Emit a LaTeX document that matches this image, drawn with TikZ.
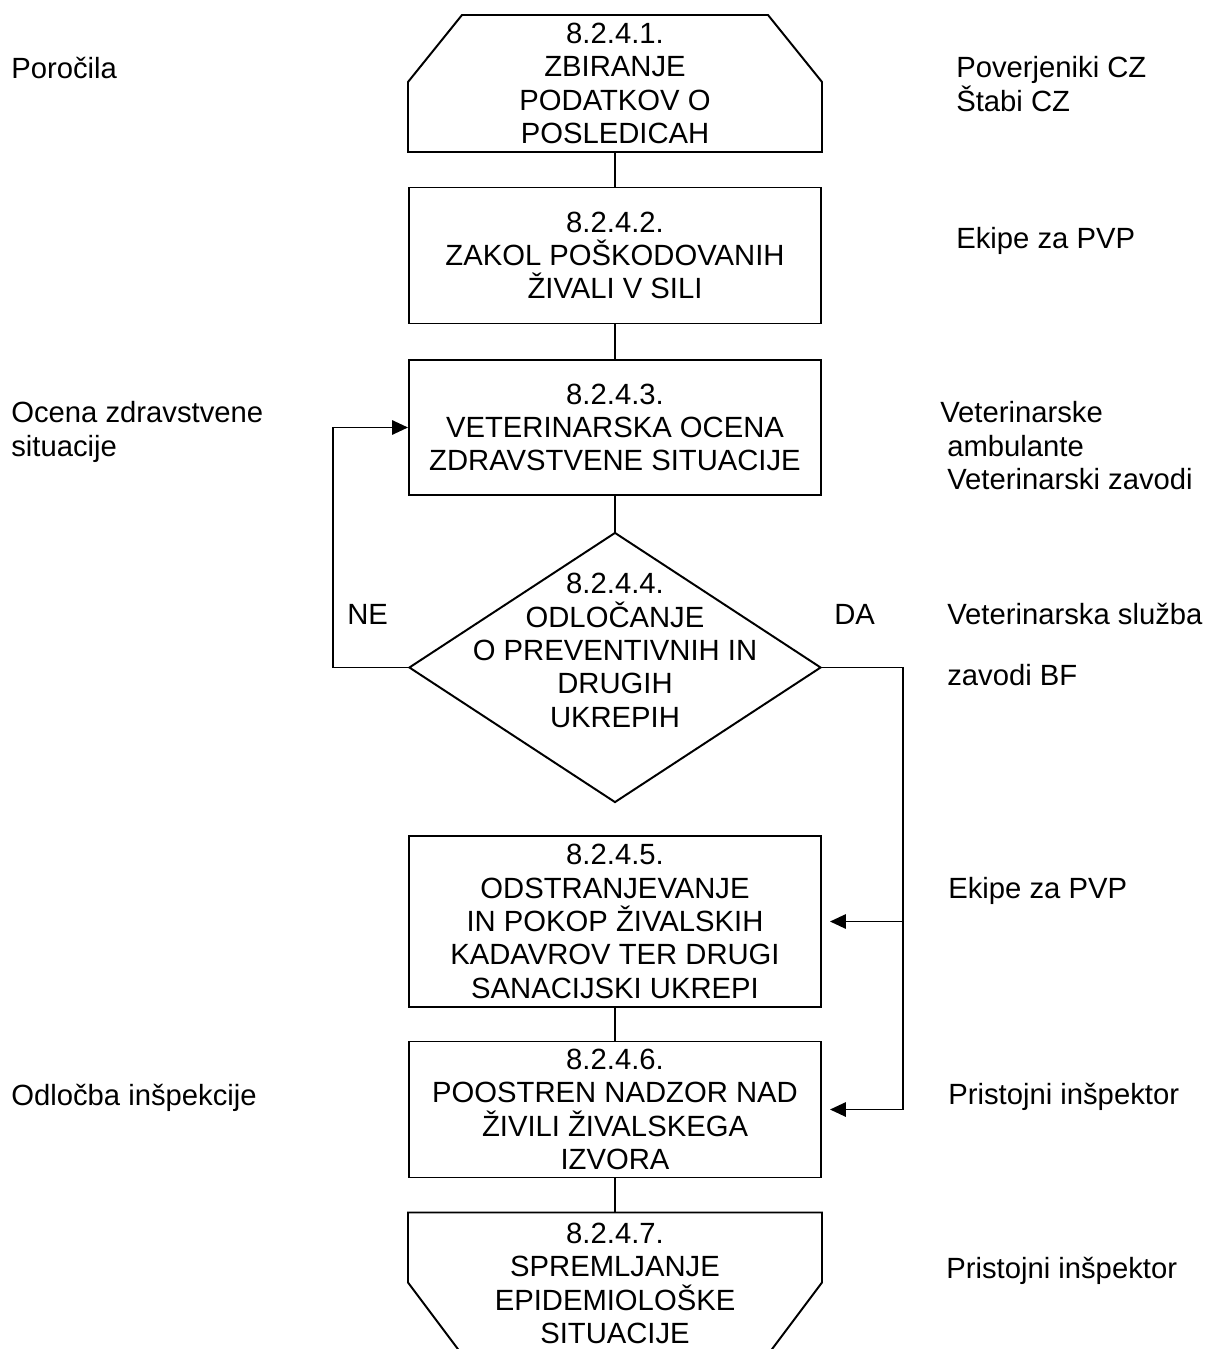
\documentclass[tikz,border=0pt]{standalone}
\usepackage{fontspec}
\setmainfont{Liberation Sans}
\usetikzlibrary{shapes.geometric, arrows.meta}

\tikzstyle{startbox} = [rectangle, minimum width=10.35cm, minimum height=3.425cm, align=center, outer sep=0pt]
\tikzstyle{endbox} = [rectangle, minimum width=10.35cm, minimum height=3.55cm, align=center, outer sep=0pt]
\tikzstyle{process} = [rectangle, minimum width=10.3cm, minimum height=3.4cm, align=center, draw=black, line width=1.4pt]
\tikzstyle{decision} = [diamond, minimum width=10.3cm, minimum height=6.75cm, inner sep=0pt, draw=black, line width=1.4pt]
\tikzstyle{side} = [anchor=north west, inner sep=0pt, align=left]
\tikzstyle{line} = [line width=1.4pt]
\tikzstyle{arrow} = [line width=1.4pt,->,>={Triangle[length=0.4cm,width=0.36cm]}]

\begin{document}
\begin{tikzpicture}[node distance=4.3cm, font=\fontsize{20.8}{23.7}\selectfont]
\useasboundingbox (-15.375,2.0875) rectangle (14.875,-31.6375);

% main column
\node (start) [startbox] {8.2.4.1.\\ZBIRANJE\\PODATKOV O\\POSLEDICAH};
\node (pro2) [process, below of=start] {8.2.4.2.\\ZAKOL POŠKODOVANIH\\ŽIVALI V SILI};
\node (pro3) [process, below of=pro2, minimum height=3.375cm] {8.2.4.3.\\VETERINARSKA OCENA\\ZDRAVSTVENE SITUACIJE};
\node (dec) [decision, below of=pro3, yshift=-1.7cm, label={[align=center, yshift=0.425cm]center:{8.2.4.4.\\ODLOČANJE\\O PREVENTIVNIH IN\\DRUGIH\\UKREPIH}}] {};
\node (pro5) [process, below of=dec, yshift=-2.05cm, minimum height=4.275cm] {8.2.4.5.\\ODSTRANJEVANJE\\IN POKOP ŽIVALSKIH\\KADAVROV TER DRUGI\\SANACIJSKI UKREPI};
\node (pro6) [process, below of=pro5, yshift=-0.4cm] {8.2.4.6.\\POOSTREN NADZOR NAD\\ŽIVILI ŽIVALSKEGA\\IZVORA};
\node (stop) [endbox, below of=pro6, yshift=-0.05cm] {8.2.4.7.\\SPREMLJANJE\\EPIDEMIOLOŠKE\\SITUACIJE};

% cut corners of first and last block
\draw [line] (start.south west) -- ([yshift=-1.675cm]start.north west) -- ([xshift=1.35cm]start.north west) -- ([xshift=-1.35cm]start.north east) -- ([yshift=-1.675cm]start.north east) -- (start.south east) -- cycle;
\draw [line] (stop.north west) -- ([yshift=1.8cm]stop.south west) -- ([xshift=1.35cm]stop.south west) -- ([xshift=-1.35cm]stop.south east) -- ([yshift=1.8cm]stop.south east) -- (stop.north east) -- cycle;

% side texts
\node (porocila) [side] at (-15.1,0.675) {Poročila};
\node (poverjeniki) [side] at (8.525,0.675) {Poverjeniki CZ\\Štabi CZ};
\node (ekipe1) [side] at (8.525,-3.6) {Ekipe za PVP};
\node (ocena) [side] at (-15.1,-7.95) {Ocena zdravstvene\\situacije};
\node (ambulante) [side] at (8.125,-7.95) {Veterinarske\\\kern0.175cm ambulante\\\kern0.175cm Veterinarski zavodi};
\node (ne) [side] at (-6.7,-13.025) {NE};
\node (da) [side] at (5.475,-13.025) {DA};
\node (sluzba) [side] at (8.3,-12.975) {Veterinarska služba};
\node (bf) [side] at (8.3,-14.525) {zavodi BF};
\node (ekipe2) [side] at (8.325,-19.85) {Ekipe za PVP};
\node (odlocba) [side] at (-15.1,-25.0) {Odločba inšpekcije};
\node (inspektor1) [side] at (8.325,-24.975) {Pristojni inšpektor};
\node (inspektor2) [side] at (8.275,-29.325) {Pristojni inšpektor};

% connectors
\draw [line] (start) -- (pro2);
\draw [line] (pro2) -- (pro3);
\draw [line] (pro3) -- (dec);
\draw [line] (pro5) -- (pro6);
\draw [line] (pro6) -- (stop);

\draw [arrow] (dec.west) -- ++(-1.875,0) |- (pro3.west);
\coordinate (rail) at ([xshift=2.025cm]dec.east);
\draw [arrow, shorten >=0.2cm] (dec.east) -- (rail) |- (pro6.east);
\draw [arrow, shorten >=0.2cm] (rail |- pro5.east) -- (pro5.east);

\end{tikzpicture}
\end{document}
